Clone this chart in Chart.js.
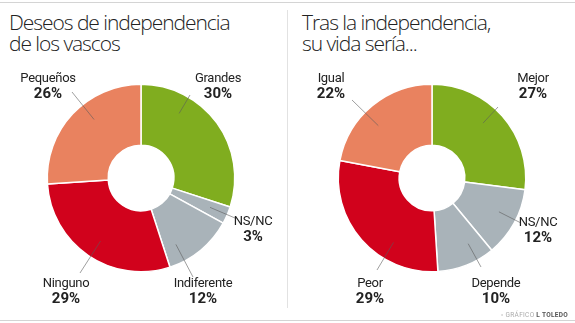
<!DOCTYPE html>
<html>
<head>
<meta charset="utf-8">
<script src="https://cdn.jsdelivr.net/npm/chart.js@4/dist/chart.umd.min.js"></script>
<style>
  html,body{margin:0;padding:0;background:#fff;}
  body{width:575px;height:323px;position:relative;overflow:hidden;font-family:"Open Sans",sans-serif;}
  canvas{position:absolute;}
  .frame-top{position:absolute;left:0;top:2px;width:575px;height:1px;background:#d4d4d4;}
  .frame-bottom{position:absolute;left:0;top:320px;width:575px;height:1px;background:#d4d4d4;}
  .divider{position:absolute;left:287px;top:10px;width:1px;height:298px;background:#e2e2e2;}
  .title{position:absolute;top:12px;font-family:"Open Sans",sans-serif;font-weight:300;font-size:21px;line-height:21px;color:#222;letter-spacing:-1.05px;white-space:nowrap;}
  .lbl{position:absolute;text-align:center;white-space:nowrap;color:#222;transform:translateX(-50%);z-index:2;}
  .lbl .n{font-family:Roboto,sans-serif;font-size:13px;line-height:15px;letter-spacing:-0.3px;}
  .lbl .p{font-family:Roboto,sans-serif;font-weight:bold;font-size:15px;line-height:17px;}
  .credit{position:absolute;right:7px;top:311px;font-family:Roboto,sans-serif;font-size:6.5px;color:#aaa;letter-spacing:0.3px;}
  .credit b{color:#555;}
</style>
</head>
<body>
<div class="frame-top"></div>
<div class="frame-bottom"></div>
<div class="divider"></div>
<div class="title" id="t1" style="left:9px;"></div>
<div class="title" id="t2" style="left:302px;"></div>
<canvas id="c1" width="287" height="323" style="left:0;top:0;"></canvas>
<canvas id="c2" width="287" height="323" style="left:288px;top:0;"></canvas>
<div id="labels"></div>
<div class="credit">▫ GRÁFICO <b>L TOLEDO</b></div>
<script>
// ---- data ----
const leftTitle = ['Deseos de independencia', 'de los vascos'];
const leftCategories = ['Grandes', 'NS/NC', 'Indiferente', 'Ninguno', 'Pequeños'];
const leftValues = [30, 3, 12, 29, 26];
const rightTitle = ['Tras la independencia,', 'su vida sería...'];
const rightCategories = ['Mejor', 'NS/NC', 'Depende', 'Peor', 'Igual'];
const rightValues = [27, 12, 10, 29, 22];

// ---- styles ----
const GREEN = '#80ad1f', GRAY = '#a9b3b9', RED = '#d1021c', SALMON = '#e9825f';
const leftColors = [GREEN, GRAY, GRAY, RED, SALMON];
const rightColors = [GREEN, GRAY, GRAY, RED, SALMON];

// label placement (page px): label centre x, label top y, leader anchor x/y
const leftLabelLayout = [
  {cx: 218, top: 70, ax: 190, ay: 95},
  {cx: 253, top: 213, ax: 235, ay: 218},
  {cx: 203, top: 275, ax: 193, ay: 277},
  {cx: 66,  top: 275, ax: 80,  ay: 273},
  {cx: 48,  top: 70,  ax: 72,  ay: 92}
];
const rightLabelLayout = [
  {cx: 533, top: 70, ax: 498, ay: 107},
  {cx: 538, top: 214, ax: 521, ay: 223},
  {cx: 496, top: 275, ax: 481, ay: 267},
  {cx: 370, top: 275, ax: 377, ay: 270},
  {cx: 331, top: 70, ax: 352, ay: 100}
];

function setTitle(id, lines) {
  const el = document.getElementById(id);
  lines.forEach((t, i) => {
    if (i) el.appendChild(document.createElement('br'));
    el.appendChild(document.createTextNode(t));
  });
}
setTitle('t1', leftTitle);
setTitle('t2', rightTitle);

function addLabels(cats, vals, layout) {
  const host = document.getElementById('labels');
  cats.forEach((c, i) => {
    const d = document.createElement('div');
    d.className = 'lbl';
    d.style.left = layout[i].cx + 'px';
    d.style.top = layout[i].top + 'px';
    d.innerHTML = '<div class="n"></div><div class="p"></div>';
    d.querySelector('.n').textContent = c;
    d.querySelector('.p').textContent = vals[i] + '%';
    host.appendChild(d);
  });
}

const leaderPlugin = {
  id: 'leaders',
  afterDatasetsDraw(chart, args, opts) {
    const ctx = chart.ctx;
    const meta = chart.getDatasetMeta(0);
    ctx.save();
    ctx.strokeStyle = 'rgba(90,90,90,0.65)';
    ctx.lineWidth = 0.9;
    meta.data.forEach((arc, i) => {
      const L = opts.layout[i];
      const ax = L.ax - opts.offsetX, ay = L.ay;
      const dx = ax - arc.x, dy = ay - arc.y;
      const len = Math.hypot(dx, dy);
      const r = arc.outerRadius * 0.8;
      const ex = arc.x + dx / len * r, ey = arc.y + dy / len * r;
      ctx.beginPath();
      ctx.moveTo(ax, ay);
      ctx.lineTo(ex, ey);
      ctx.stroke();
    });
    ctx.restore();
  }
};

function makeChart(id, cats, vals, colors, layout, offsetX, pad) {
  return new Chart(document.getElementById(id), {
    type: 'doughnut',
    data: {
      labels: cats,
      datasets: [{
        data: vals,
        backgroundColor: colors,
        borderColor: '#ffffff',
        borderWidth: 1.5
      }]
    },
    options: {
      responsive: false,
      animation: false,
      cutout: '35%',
      layout: {padding: pad},
      plugins: {
        legend: {display: false},
        tooltip: {enabled: false},
        leaders: {layout: layout, offsetX: offsetX}
      }
    },
    plugins: [leaderPlugin]
  });
}

makeChart('c1', leftCategories, leftValues, leftColors, leftLabelLayout, 0,
  {left: 46.5, right: 51.5, top: 83.5, bottom: 50.5});
makeChart('c2', rightCategories, rightValues, rightColors, rightLabelLayout, 288,
  {left: 49.5, right: 48.5, top: 83.5, bottom: 50.5});
addLabels(leftCategories, leftValues, leftLabelLayout);
addLabels(rightCategories, rightValues, rightLabelLayout);
</script>
</body>
</html>
